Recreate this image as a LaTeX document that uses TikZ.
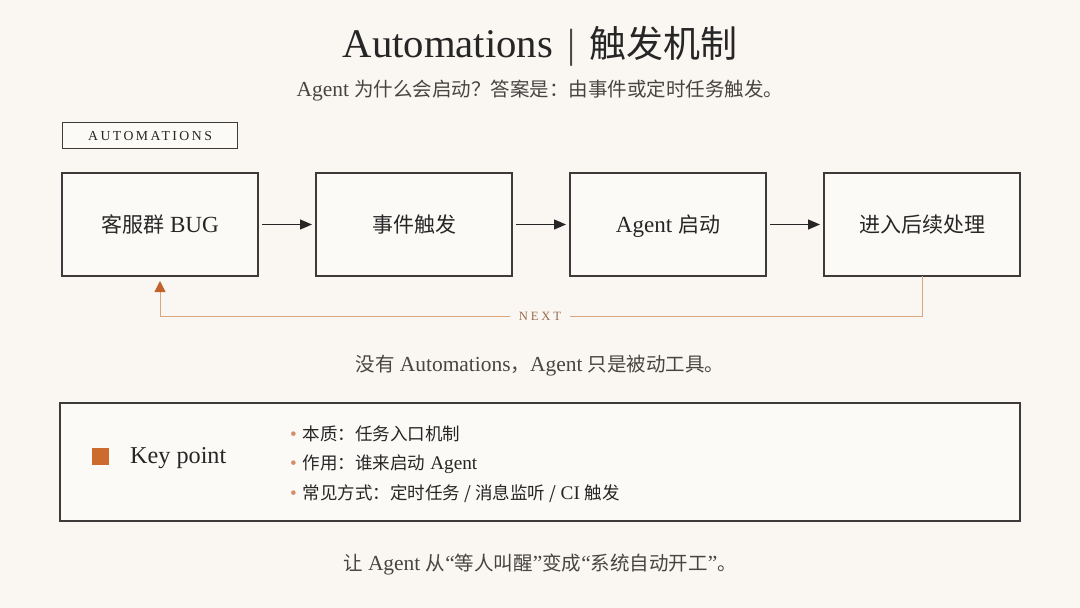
\documentclass[tikz,border=0pt]{standalone}
\usepackage{fontspec}
\setmainfont{Liberation Serif}[Scale=1.1]
\newfontfamily\cjk{Noto Sans CJK SC}
\newcommand\zh[1]{{\cjk #1}}
\usetikzlibrary{positioning, arrows.meta}
\definecolor{paper}{HTML}{FAF6F2}
\definecolor{boxfill}{HTML}{FCFAF7}
\definecolor{ink}{HTML}{262626}
\definecolor{subink}{HTML}{474543}
\definecolor{boxline}{HTML}{3C3B3A}
\definecolor{accent}{HTML}{CD6A2E}
\definecolor{loopc}{HTML}{D9A67E}
\definecolor{looptip}{HTML}{C4622C}
\definecolor{nextc}{HTML}{9A6C4E}
\definecolor{dotc}{HTML}{D58F66}
\tikzset{
    stepbox/.style={draw=boxline, line width=1.2pt, fill=boxfill, minimum width=196pt, minimum height=103pt,
        outer sep=0pt, text height=17pt, text depth=1pt, font=\fontsize{21}{25}\selectfont, text=ink},
    flow/.style={line width=1.3pt, draw=ink, -{Triangle[length=12pt, width=10pt]}, shorten <=4pt, shorten >=4pt},
    loopline/.style={line width=1pt, draw=loopc},
    caption/.style={font=\fontsize{19.5}{24}\selectfont, text=subink},
    point/.style={anchor=west, font=\fontsize{17.5}{21}\selectfont, text=ink, inner sep=0pt},
    common settings/.style={x=1pt, y=-1pt}
}

\begin{document}
\begin{tikzpicture}[common settings]

    % Page
    \fill[paper] (0,0) rectangle (1080,608);
    \useasboundingbox (0,0) rectangle (1080,608);

    % Heading
    \node[text=ink, font=\fontsize{37}{42}\selectfont] (title) at (540,46)
        {Automations\hspace{14pt}{\color{subink}|}\hspace{14pt}\zh{触发机制}};
    \node[caption] (sub) at (540,91) {Agent \zh{为什么会启动？答案是：由事件或定时任务触发。}};

    % Tag
    \node[draw=boxline, line width=1.1pt, fill=boxfill, minimum width=175pt, minimum height=26pt, anchor=north west,
        text=ink, font=\fontsize{12.5}{15}\selectfont\addfontfeatures{LetterSpace=18}] (tag) at (62,122) {AUTOMATIONS};

    % Flow
    \node[stepbox, anchor=west] (bug) at (62,224.5) {\zh{客服群} BUG};
    \node[stepbox, right=58pt of bug] (evt) {\zh{事件触发}};
    \node[stepbox, right=58pt of evt] (agent) {Agent \zh{启动}};
    \node[stepbox, right=58pt of agent] (go) {\zh{进入后续处理}};

    \draw[flow] (bug) -- (evt);
    \draw[flow] (evt) -- (agent);
    \draw[flow] (agent) -- (go);

    % Loop back
    \node[fill=paper, inner xsep=9pt, inner ysep=2pt, text=nextc,
        font=\fontsize{11.5}{14}\selectfont\addfontfeatures{LetterSpace=22}] (nextlbl) at (540,316) {NEXT};
    \draw[loopline] (go.south) |- (nextlbl.east);
    \draw[loopline, -{Triangle[length=11pt, width=11pt, color=looptip]}, shorten >=5pt] (nextlbl.west) -| (bug.south);

    \node[caption] (note) at (540,366) {\zh{没有} Automations\zh{，}Agent \zh{只是被动工具。}};

    % Key point
    \node[draw=boxline, line width=1.2pt, fill=boxfill, minimum width=960pt, minimum height=118pt] (kpbox) at (540,462) {};
    \node[fill=accent, minimum size=17pt, inner sep=0pt] (kpmark) at (100.5,456.5) {};
    \node[anchor=west, inner sep=0pt, text=ink, font=\fontsize{22}{26}\selectfont] (kptitle) at (130,458) {Key point};
    \node[point] (kp1) at (290,434) {{\color{dotc}\textbullet}\hspace{6pt}\zh{本质：任务入口机制}};
    \node[point] (kp2) at (290,464) {{\color{dotc}\textbullet}\hspace{6pt}\zh{作用：谁来启动} Agent};
    \node[point] (kp3) at (290,494) {{\color{dotc}\textbullet}\hspace{6pt}\zh{常见方式：定时任务 / 消息监听 /} CI \zh{触发}};

    \node[caption] (closing) at (540,565) {\zh{让} Agent \zh{从}“\zh{等人叫醒}”\zh{变成}“\zh{系统自动开工}”\zh{。}};

\end{tikzpicture}
\end{document}
